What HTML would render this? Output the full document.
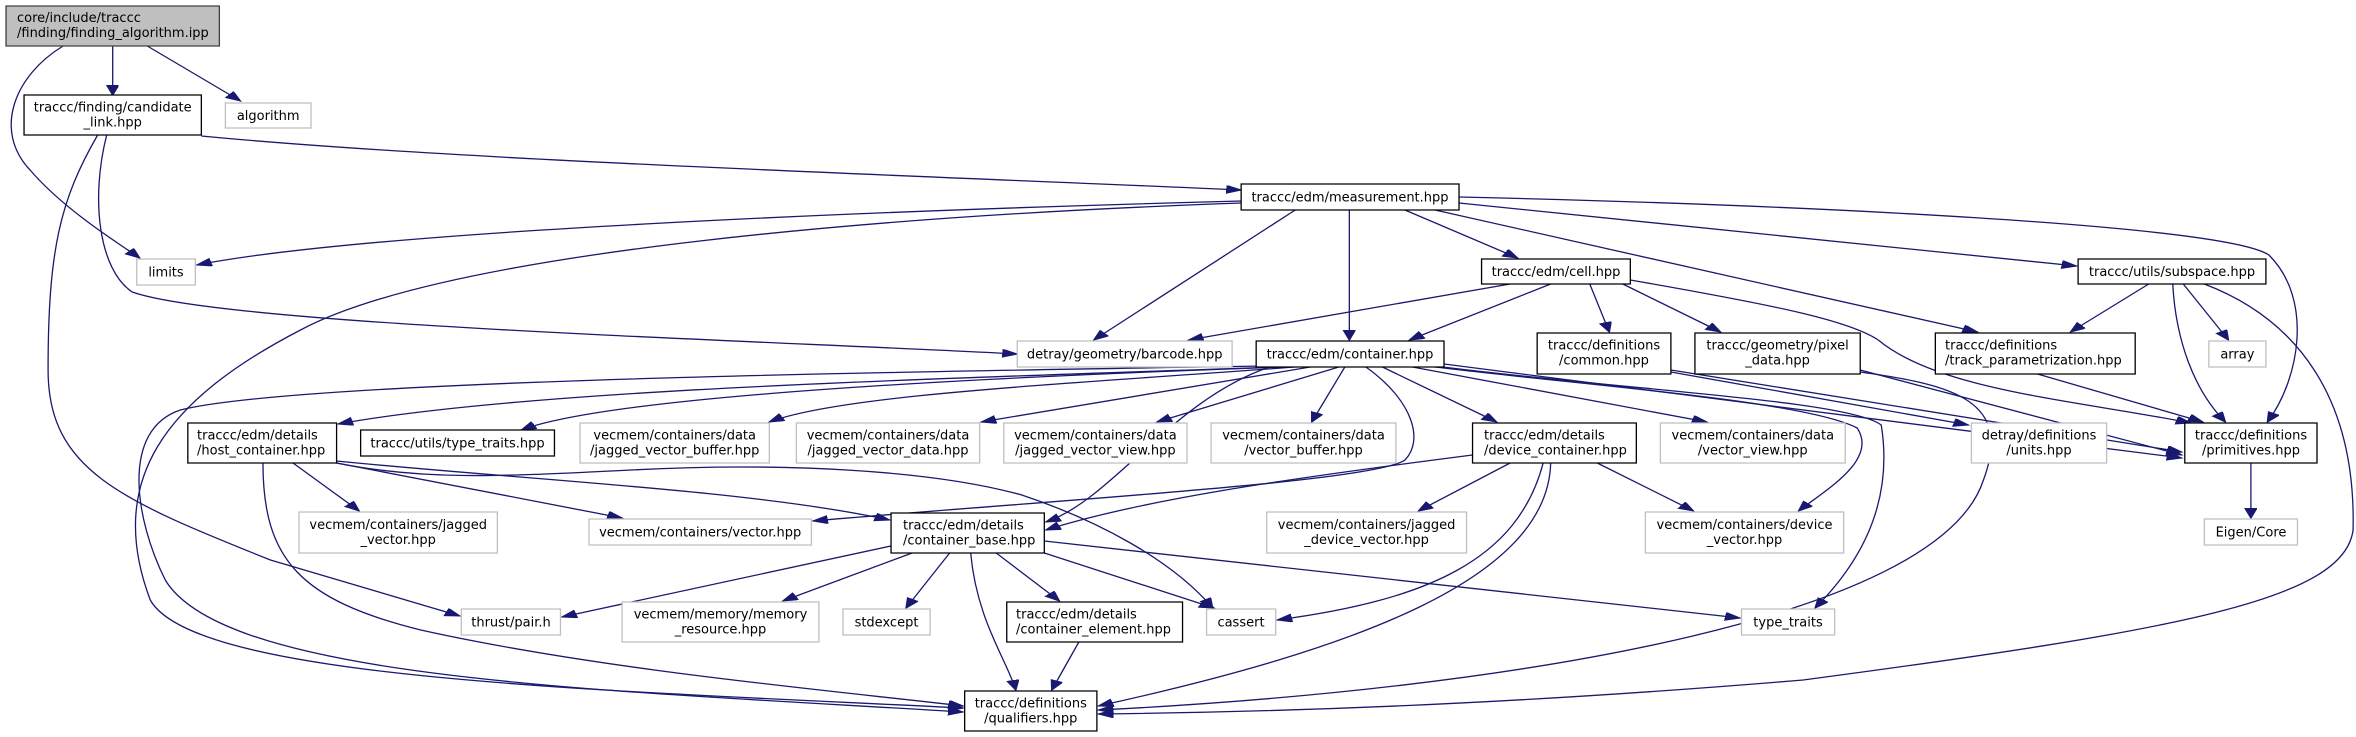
<!DOCTYPE html>
<html><head><meta charset="utf-8"><style>
html,body{margin:0;padding:0;background:#fff;}
svg{display:block;}
text{font-family:"DejaVu Sans","Liberation Sans",sans-serif;font-size:13px;fill:#000;}
.c{text-anchor:middle;}
</style></head><body>
<svg width="2356" height="737" viewBox="0 0 2356 737" xmlns="http://www.w3.org/2000/svg">
<defs>
<marker id="a" markerUnits="userSpaceOnUse" markerWidth="12" markerHeight="10" refX="10" refY="4" orient="auto">
<path d="M0,0 L10,4 L0,8 Z" fill="#191970" stroke="#191970"/>
</marker>
</defs>
<g transform="scale(1.5026,1)">
<g fill="none" stroke="#191970" stroke-width="1.3" vector-effect="non-scaling-stroke" marker-end="url(#a)">
<path vector-effect="non-scaling-stroke" d="M75,46 L75,95"/>
<path vector-effect="non-scaling-stroke" d="M98,46 L160,101"/>
<path vector-effect="non-scaling-stroke" d="M42,46 C10,75 -5,130 20,170 C40,205 70,235 93,258"/>
<path vector-effect="non-scaling-stroke" d="M134,136 C300,160 600,175 826,190"/>
<path vector-effect="non-scaling-stroke" d="M71,135 C60,200 66,270 88,292 C150,325 500,340 677,354"/>
<path vector-effect="non-scaling-stroke" d="M65,135 C40,200 32,250 32,370 C32,470 80,500 180,560 L306,616"/>
<path vector-effect="non-scaling-stroke" d="M826,201 C600,210 250,230 131,265"/>
<path vector-effect="non-scaling-stroke" d="M826,203 C600,215 300,250 200,330 C110,400 70,480 100,600 C130,680 400,690 641,708"/>
<path vector-effect="non-scaling-stroke" d="M862,210 L728,340"/>
<path vector-effect="non-scaling-stroke" d="M898,210 L898,340"/>
<path vector-effect="non-scaling-stroke" d="M935,210 L1010,258"/>
<path vector-effect="non-scaling-stroke" d="M955,210 L1316,332"/>
<path vector-effect="non-scaling-stroke" d="M971,203 L1382,266"/>
<path vector-effect="non-scaling-stroke" d="M971,197 C1200,205 1480,225 1510,255 C1540,300 1530,380 1509,422"/>
<path vector-effect="non-scaling-stroke" d="M1005,284 L791,340"/>
<path vector-effect="non-scaling-stroke" d="M1032,284 L938,340"/>
<path vector-effect="non-scaling-stroke" d="M1058,284 L1071,332"/>
<path vector-effect="non-scaling-stroke" d="M1080,284 L1145,332"/>
<path vector-effect="non-scaling-stroke" d="M1085,280 C1180,305 1230,320 1250,340 C1290,390 1380,400 1458,423"/>
<path vector-effect="non-scaling-stroke" d="M850,367 C600,380 350,390 225,424"/>
<path vector-effect="non-scaling-stroke" d="M855,367 C600,380 400,400 347,430"/>
<path vector-effect="non-scaling-stroke" d="M862,367 C700,385 560,395 512,422"/>
<path vector-effect="non-scaling-stroke" d="M872,367 L653,422"/>
<path vector-effect="non-scaling-stroke" d="M891,367 L770,422"/>
<path vector-effect="non-scaling-stroke" d="M895,367 L873,422"/>
<path vector-effect="non-scaling-stroke" d="M920,367 L996,422"/>
<path vector-effect="non-scaling-stroke" d="M940,367 L1136,422"/>
<path vector-effect="non-scaling-stroke" d="M950,366 C1050,385 1200,400 1236,428 C1250,460 1215,490 1197,511"/>
<path vector-effect="non-scaling-stroke" d="M955,366 C1080,390 1230,400 1252,425 C1260,500 1240,560 1208,608"/>
<path vector-effect="non-scaling-stroke" d="M909,367 C940,400 948,440 935,460 C915,482 700,500 541,521"/>
<path vector-effect="non-scaling-stroke" d="M840,366 C600,372 200,380 120,410 C80,430 90,520 110,580 C150,680 400,690 641,712"/>
<path vector-effect="non-scaling-stroke" d="M845,367 C780,400 740,500 696,522"/>
<path vector-effect="non-scaling-stroke" d="M961,364 C1100,390 1300,430 1452,458"/>
<path vector-effect="non-scaling-stroke" d="M195,463 L239,511"/>
<path vector-effect="non-scaling-stroke" d="M224,463 L414,518"/>
<path vector-effect="non-scaling-stroke" d="M224,461 C350,480 500,490 592,520"/>
<path vector-effect="non-scaling-stroke" d="M175,463 C175,560 200,600 280,630 C400,670 550,690 641,706"/>
<path vector-effect="non-scaling-stroke" d="M224,463 C280,480 330,477 420,470 C520,462 620,470 680,495 C730,520 780,560 807,608"/>
<path vector-effect="non-scaling-stroke" d="M593,546 L374,617"/>
<path vector-effect="non-scaling-stroke" d="M607,553 L521,601"/>
<path vector-effect="non-scaling-stroke" d="M632,553 L603,608"/>
<path vector-effect="non-scaling-stroke" d="M663,553 L705,601"/>
<path vector-effect="non-scaling-stroke" d="M646,553 C650,620 670,660 676,690"/>
<path vector-effect="non-scaling-stroke" d="M695,553 L808,608"/>
<path vector-effect="non-scaling-stroke" d="M695,541 L1158,618"/>
<path vector-effect="non-scaling-stroke" d="M718,642 L700,690"/>
<path vector-effect="non-scaling-stroke" d="M980,455 C850,480 760,500 696,530"/>
<path vector-effect="non-scaling-stroke" d="M1005,463 L944,511"/>
<path vector-effect="non-scaling-stroke" d="M1063,463 L1127,511"/>
<path vector-effect="non-scaling-stroke" d="M1027,463 C1010,560 950,600 850,620"/>
<path vector-effect="non-scaling-stroke" d="M1032,463 C1030,580 900,650 731,706"/>
<path vector-effect="non-scaling-stroke" d="M1238,370 L1452,455"/>
<path vector-effect="non-scaling-stroke" d="M1238,372 C1300,385 1340,400 1320,480 C1290,620 1000,690 731,710"/>
<path vector-effect="non-scaling-stroke" d="M1356,374 L1466,422"/>
<path vector-effect="non-scaling-stroke" d="M1430,284 L1378,332"/>
<path vector-effect="non-scaling-stroke" d="M1453,284 L1483,340"/>
<path vector-effect="non-scaling-stroke" d="M1446,284 C1448,340 1460,390 1481,422"/>
<path vector-effect="non-scaling-stroke" d="M1467,284 C1530,320 1568,400 1566,530 C1560,600 1450,630 1200,680 C1000,705 850,712 731,714"/>
<path vector-effect="non-scaling-stroke" d="M1498,463 L1498,518"/>
<path vector-effect="non-scaling-stroke" d="M1112,370 L1452,452"/>
<path vector-effect="non-scaling-stroke" d="M1112,372 L1310,425"/>
</g>
<g stroke-width="1.3" vector-effect="non-scaling-stroke">
<rect vector-effect="non-scaling-stroke" x="4" y="6" width="142" height="40" fill="#bfbfbf" stroke="#404040"/>
<g fill="#fff" stroke="#000">
<rect vector-effect="non-scaling-stroke" x="16" y="95" width="118" height="40"/>
<rect vector-effect="non-scaling-stroke" x="826" y="184" width="145" height="26"/>
<rect vector-effect="non-scaling-stroke" x="986" y="259" width="99" height="25"/>
<rect vector-effect="non-scaling-stroke" x="836" y="341" width="125" height="26"/>
<rect vector-effect="non-scaling-stroke" x="1023" y="333" width="89" height="41"/>
<rect vector-effect="non-scaling-stroke" x="1128" y="333" width="110" height="41"/>
<rect vector-effect="non-scaling-stroke" x="1288" y="333" width="133" height="41"/>
<rect vector-effect="non-scaling-stroke" x="1383" y="259" width="125" height="25"/>
<rect vector-effect="non-scaling-stroke" x="1454" y="423" width="88" height="40"/>
<rect vector-effect="non-scaling-stroke" x="980" y="423" width="109" height="40"/>
<rect vector-effect="non-scaling-stroke" x="240" y="430" width="129" height="26"/>
<rect vector-effect="non-scaling-stroke" x="125" y="423" width="99" height="40"/>
<rect vector-effect="non-scaling-stroke" x="593" y="513" width="102" height="40"/>
<rect vector-effect="non-scaling-stroke" x="670" y="602" width="117" height="40"/>
<rect vector-effect="non-scaling-stroke" x="642" y="691" width="88" height="40"/>
</g>
<g fill="#fff" stroke="#bfbfbf">
<rect vector-effect="non-scaling-stroke" x="150" y="103" width="57" height="25"/>
<rect vector-effect="non-scaling-stroke" x="91" y="259" width="39" height="26"/>
<rect vector-effect="non-scaling-stroke" x="677" y="341" width="143" height="26"/>
<rect vector-effect="non-scaling-stroke" x="1470" y="341" width="38" height="26"/>
<rect vector-effect="non-scaling-stroke" x="1312" y="423" width="90" height="40"/>
<rect vector-effect="non-scaling-stroke" x="1105" y="423" width="123" height="40"/>
<rect vector-effect="non-scaling-stroke" x="806" y="423" width="123" height="40"/>
<rect vector-effect="non-scaling-stroke" x="668" y="423" width="122" height="40"/>
<rect vector-effect="non-scaling-stroke" x="530" y="423" width="122" height="40"/>
<rect vector-effect="non-scaling-stroke" x="386" y="423" width="126" height="40"/>
<rect vector-effect="non-scaling-stroke" x="199" y="512" width="132" height="41"/>
<rect vector-effect="non-scaling-stroke" x="392" y="519" width="148" height="26"/>
<rect vector-effect="non-scaling-stroke" x="307" y="609" width="66" height="26"/>
<rect vector-effect="non-scaling-stroke" x="414" y="602" width="131" height="40"/>
<rect vector-effect="non-scaling-stroke" x="561" y="609" width="58" height="26"/>
<rect vector-effect="non-scaling-stroke" x="843" y="512" width="133" height="41"/>
<rect vector-effect="non-scaling-stroke" x="1095" y="512" width="132" height="41"/>
<rect vector-effect="non-scaling-stroke" x="1467" y="519" width="62" height="26"/>
<rect vector-effect="non-scaling-stroke" x="803" y="609" width="46" height="26"/>
<rect vector-effect="non-scaling-stroke" x="1159" y="609" width="62" height="26"/>
</g>
</g>
</g>
<text x="17" y="22">core/include/traccc</text><text x="17" y="37">/finding/finding_algorithm.ipp</text>
<text class="c" x="112.7" y="111.5">traccc/finding/candidate</text><text class="c" x="112.7" y="126.5">_link.hpp</text>
<text class="c" x="268.2" y="120">algorithm</text>
<text class="c" x="166" y="276.5">limits</text>
<text class="c" x="1350" y="201.5">traccc/edm/measurement.hpp</text>
<text class="c" x="1556" y="276">traccc/edm/cell.hpp</text>
<text class="c" x="1124.7" y="358.5">detray/geometry/barcode.hpp</text>
<text class="c" x="1350" y="358.5">traccc/edm/container.hpp</text>
<text class="c" x="1604" y="349.5">traccc/definitions</text><text class="c" x="1604" y="364.5">/common.hpp</text>
<text class="c" x="1777.6" y="349.5">traccc/geometry/pixel</text><text class="c" x="1777.6" y="364.5">_data.hpp</text>
<text x="1945" y="349.5">traccc/definitions</text><text x="1945" y="364.5">/track_parametrization.hpp</text>
<text class="c" x="2172" y="276">traccc/utils/subspace.hpp</text>
<text class="c" x="2237.4" y="358.5">array</text>
<text class="c" x="2251" y="439.5">traccc/definitions</text><text class="c" x="2251" y="454.5">/primitives.hpp</text>
<text class="c" x="2039" y="439.5">detray/definitions</text><text class="c" x="2039" y="454.5">/units.hpp</text>
<text class="c" x="1752.8" y="439.5">vecmem/containers/data</text><text class="c" x="1752.8" y="454.5">/vector_view.hpp</text>
<text x="1484" y="439.5">traccc/edm/details</text><text x="1484" y="454.5">/device_container.hpp</text>
<text class="c" x="1303.5" y="439.5">vecmem/containers/data</text><text class="c" x="1303.5" y="454.5">/vector_buffer.hpp</text>
<text class="c" x="1095.4" y="439.5">vecmem/containers/data</text><text class="c" x="1095.4" y="454.5">/jagged_vector_view.hpp</text>
<text class="c" x="888" y="439.5">vecmem/containers/data</text><text class="c" x="888" y="454.5">/jagged_vector_data.hpp</text>
<text class="c" x="674.7" y="439.5">vecmem/containers/data</text><text class="c" x="674.7" y="454.5">/jagged_vector_buffer.hpp</text>
<text class="c" x="457.5" y="447.5">traccc/utils/type_traits.hpp</text>
<text x="197" y="439.5">traccc/edm/details</text><text x="197" y="454.5">/host_container.hpp</text>
<text class="c" x="398.2" y="529">vecmem/containers/jagged</text><text class="c" x="398.2" y="544">_vector.hpp</text>
<text class="c" x="700.2" y="536.5">vecmem/containers/vector.hpp</text>
<text x="903" y="529.5">traccc/edm/details</text><text x="903" y="544.5">/container_base.hpp</text>
<text class="c" x="511" y="626.5">thrust/pair.h</text>
<text class="c" x="720.5" y="618.5">vecmem/memory/memory</text><text class="c" x="720.5" y="633.5">_resource.hpp</text>
<text class="c" x="886.5" y="626.5">stdexcept</text>
<text x="1016" y="618.5">traccc/edm/details</text><text x="1016" y="633.5">/container_element.hpp</text>
<text class="c" x="1030.8" y="707.5">traccc/definitions</text><text class="c" x="1030.8" y="722.5">/qualifiers.hpp</text>
<text class="c" x="1366.6" y="529">vecmem/containers/jagged</text><text class="c" x="1366.6" y="544">_device_vector.hpp</text>
<text class="c" x="1744.5" y="529">vecmem/containers/device</text><text class="c" x="1744.5" y="544">_vector.hpp</text>
<text class="c" x="2251" y="536.5">Eigen/Core</text>
<text class="c" x="1241" y="626.5">cassert</text>
<text class="c" x="1788" y="626.5">type_traits</text>
</svg>
</body></html>
